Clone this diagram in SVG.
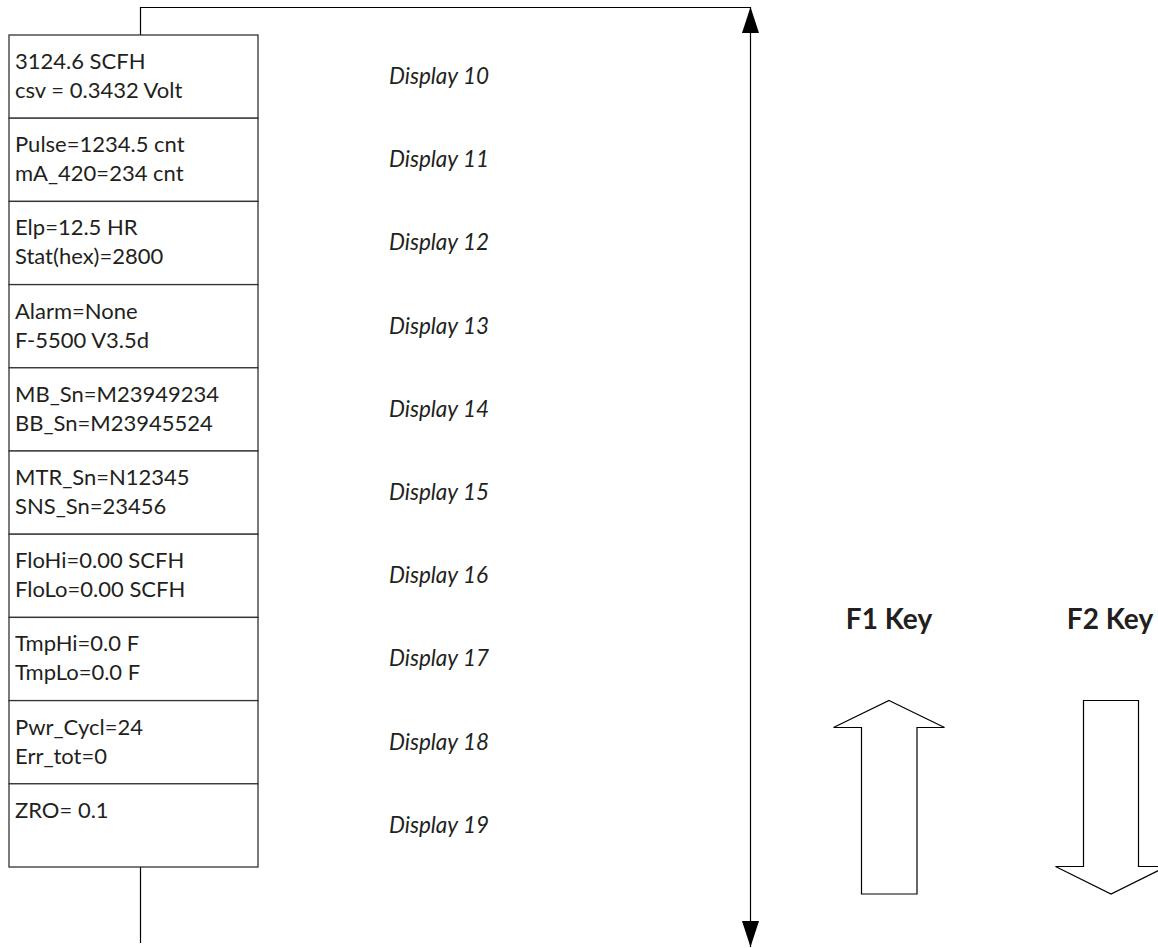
<svg xmlns="http://www.w3.org/2000/svg" width="1158" height="948" viewBox="0 0 1158 948">
<style>
.bg{fill:#fff}
.row{fill:#fff;stroke:#333;stroke-width:1.3}
.val{font-family:Lato,"Open Sans","Liberation Sans",sans-serif;font-size:22px;fill:#231f20}
.disp{font-family:Lato,"Open Sans","Liberation Sans",sans-serif;font-size:22.5px;font-style:italic;fill:#231f20}
.key{font-family:Lato,"Open Sans","Liberation Sans",sans-serif;font-size:28px;font-weight:bold;fill:#231f20;text-anchor:middle}
.ln{fill:none;stroke:#000;stroke-width:1.2}
.arw{fill:#fff;stroke:#000;stroke-width:1.2;stroke-linejoin:miter}
</style>
<defs>
<marker id="ah2" viewBox="0 0 26 18" refX="26" refY="9" markerWidth="26" markerHeight="18" orient="auto" markerUnits="userSpaceOnUse">
<path d="M0,0.5 L26,9 L0,17.5 Z" fill="#000"/>
</marker>
</defs>
<rect class="bg" x="0" y="0" width="1158" height="948"/>
<g id="connectors">
<path class="ln" d="M140.5,35 V7.5 H750"/>
<path class="ln" d="M140.5,867 V943"/>
<path class="ln" d="M750.5,470 V7" marker-end="url(#ah2)"/>
<path class="ln" d="M750.5,470 V947" marker-end="url(#ah2)"/>
</g>
<g id="display10"><rect class="row" x="9" y="35" width="249" height="83.2"/><text class="val" x="15" y="69">3124.6 SCFH</text><text class="val" x="15" y="98">csv = 0.3432 Volt</text><text class="disp" x="389" y="84">Display 10</text></g>
<g id="display11"><rect class="row" x="9" y="118.2" width="249" height="83.2"/><text class="val" x="15" y="152.2">Pulse=1234.5 cnt</text><text class="val" x="15" y="181.2">mA_420=234 cnt</text><text class="disp" x="389" y="167.2">Display 11</text></g>
<g id="display12"><rect class="row" x="9" y="201.4" width="249" height="83.2"/><text class="val" x="15" y="235.4">Elp=12.5 HR</text><text class="val" x="15" y="264.4">Stat(hex)=2800</text><text class="disp" x="389" y="250.4">Display 12</text></g>
<g id="display13"><rect class="row" x="9" y="284.6" width="249" height="83.2"/><text class="val" x="15" y="318.6">Alarm=None</text><text class="val" x="15" y="347.6">F-5500 V3.5d</text><text class="disp" x="389" y="333.6">Display 13</text></g>
<g id="display14"><rect class="row" x="9" y="367.8" width="249" height="83.2"/><text class="val" x="15" y="401.8">MB_Sn=M23949234</text><text class="val" x="15" y="430.8">BB_Sn=M23945524</text><text class="disp" x="389" y="416.8">Display 14</text></g>
<g id="display15"><rect class="row" x="9" y="451" width="249" height="83.2"/><text class="val" x="15" y="485">MTR_Sn=N12345</text><text class="val" x="15" y="514">SNS_Sn=23456</text><text class="disp" x="389" y="500">Display 15</text></g>
<g id="display16"><rect class="row" x="9" y="534.2" width="249" height="83.2"/><text class="val" x="15" y="568.2">FloHi=0.00 SCFH</text><text class="val" x="15" y="597.2">FloLo=0.00 SCFH</text><text class="disp" x="389" y="583.2">Display 16</text></g>
<g id="display17"><rect class="row" x="9" y="617.4" width="249" height="83.2"/><text class="val" x="15" y="651.4">TmpHi=0.0 F</text><text class="val" x="15" y="680.4">TmpLo=0.0 F</text><text class="disp" x="389" y="666.4">Display 17</text></g>
<g id="display18"><rect class="row" x="9" y="700.6" width="249" height="83.2"/><text class="val" x="15" y="734.6">Pwr_Cycl=24</text><text class="val" x="15" y="763.6">Err_tot=0</text><text class="disp" x="389" y="749.6">Display 18</text></g>
<g id="display19"><rect class="row" x="9" y="783.8" width="249" height="83.2"/><text class="val" x="15" y="817.8">ZRO= 0.1</text><text class="disp" x="389" y="832.8">Display 19</text></g>
<g id="f1key"><text class="key" x="889" y="629">F1 Key</text><path class="arw" d="M889,700.5 L944.5,727.5 L917,727.5 L917,894 L861.5,894 L861.5,727.5 L833.5,727.5 Z"/></g>
<g id="f2key"><text class="key" x="1110" y="629">F2 Key</text><path class="arw" d="M1083.5,700.5 L1138.5,700.5 L1138.5,866.5 L1166.5,866.5 L1111,894 L1055.5,866.5 L1083.5,866.5 Z"/></g>
</svg>
